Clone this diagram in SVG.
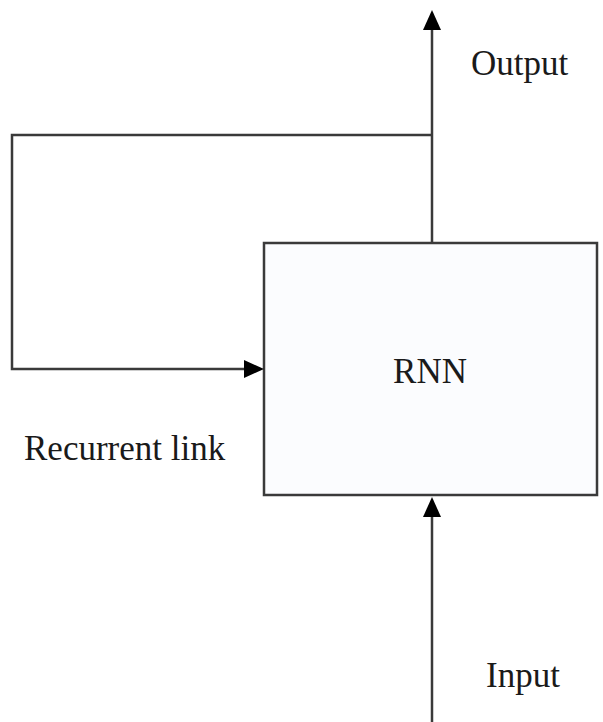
<svg xmlns="http://www.w3.org/2000/svg" width="603" height="722" viewBox="0 0 603 722">
<style>
.ln{stroke:#3a3a3a;stroke-width:2.5;fill:none}
.t{font-family:"Liberation Serif","Times New Roman",serif;font-size:35px;fill:#1a1a1a}
</style>
<rect width="603" height="722" fill="#fff"/>
<g id="rnn">
<rect x="264" y="243" width="333" height="252" fill="#fbfcfe" stroke="#3a3a3a" stroke-width="2.5"/>
<text class="t" x="430" y="383" text-anchor="middle">RNN</text>
</g>
<g id="connectors">
<path class="ln" d="M432,243 V26"/>
<path d="M423,30 L432,10 L441,30 z" fill="#000"/>
<path class="ln" d="M432,135 H12 V369 H246"/>
<path d="M244,360 L264,369 L244,378 z" fill="#000"/>
<path class="ln" d="M432,722 V514"/>
<path d="M423,517 L432,497 L441,517 z" fill="#000"/>
</g>
<g id="labels">
<text class="t" x="471" y="75">Output</text>
<text class="t" x="24" y="460">Recurrent link</text>
<text class="t" x="486" y="687">Input</text>
</g>
</svg>
